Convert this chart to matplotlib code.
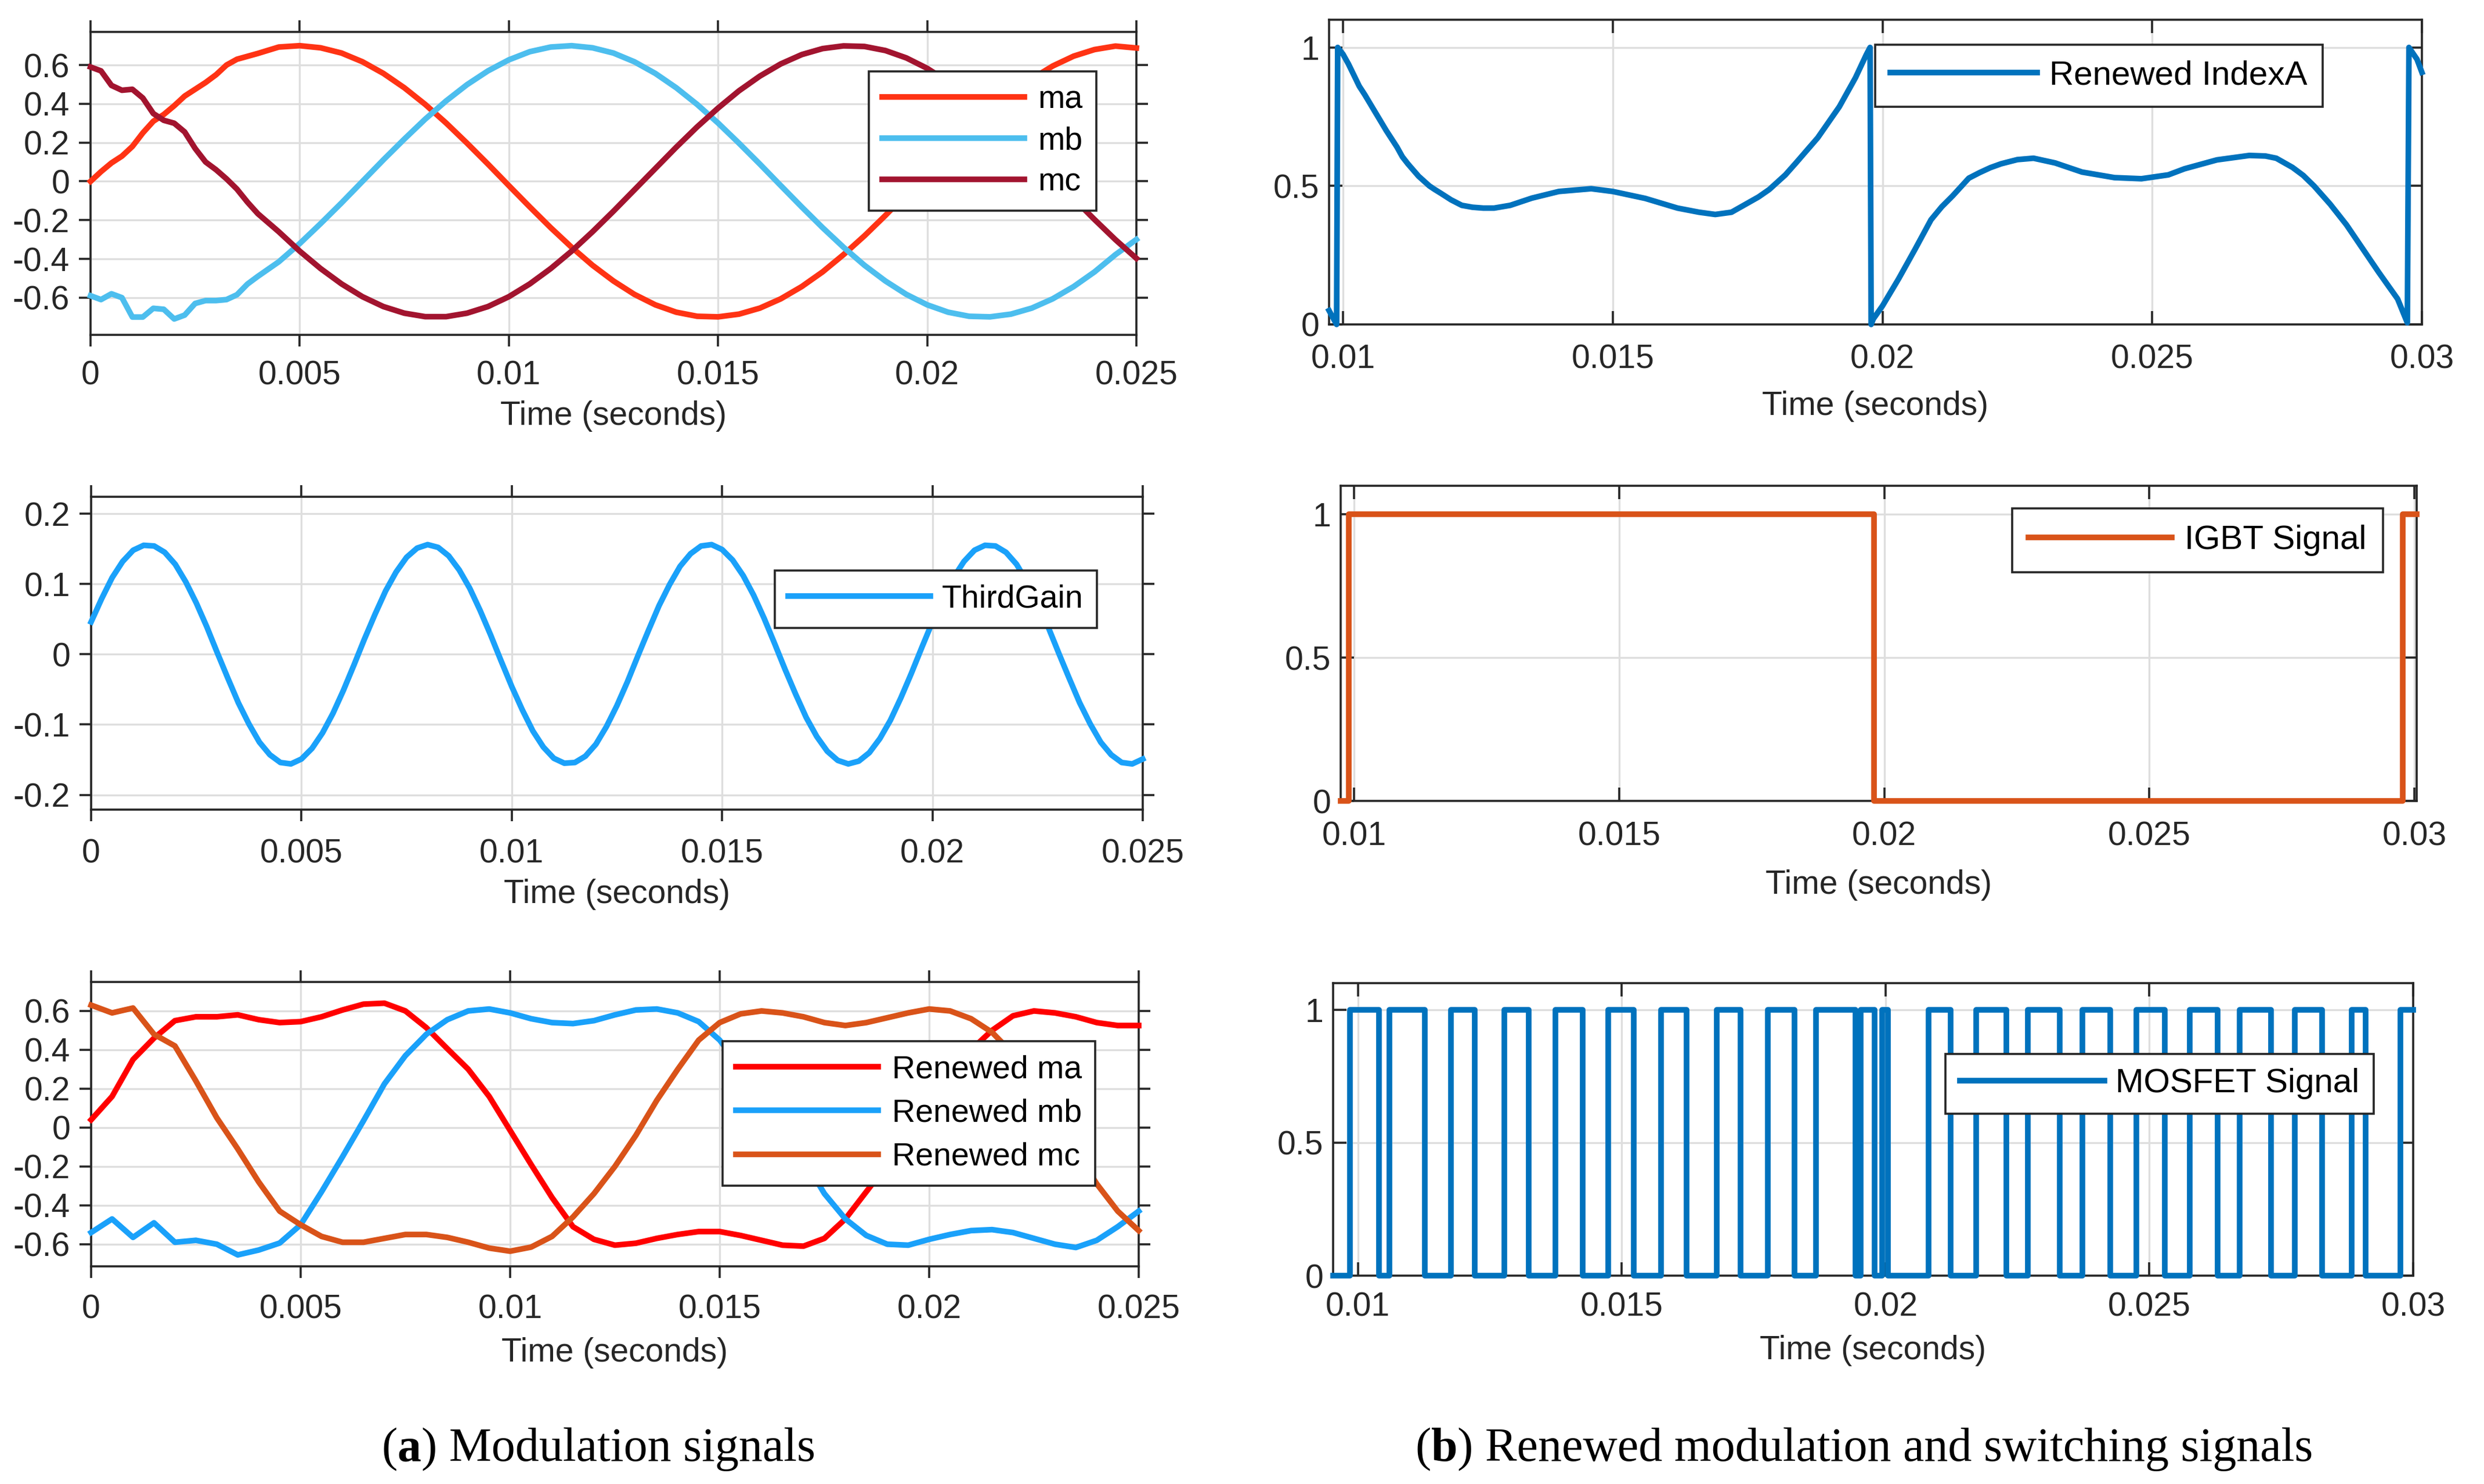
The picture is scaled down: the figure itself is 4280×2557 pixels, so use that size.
import numpy as np
import matplotlib
matplotlib.use("Agg")
import matplotlib.pyplot as plt

plt.rcParams['font.family'] = ['Liberation Sans', 'DejaVu Sans']
plt.rcParams['axes.unicode_minus'] = False

# ---------------- data ----------------
# (a) top: modulation signals ma, mb, mc
t_mod = np.round(np.concatenate([np.arange(17) * 0.00025, 0.0045 + np.arange(42) * 0.0005]), 6)
ma = [0.0, 0.05, 0.095, 0.13, 0.18, 0.25, 0.31, 0.345, 0.39, 0.44, 0.475, 0.51, 0.55, 0.60, 0.63, 0.645, 0.66,
      0.693, 0.700, 0.689, 0.662, 0.617, 0.557, 0.483, 0.397, 0.301, 0.197, 0.089, -0.022, -0.132, -0.239,
      -0.340, -0.433, -0.514, -0.583, -0.637, -0.675, -0.696, -0.699, -0.685, -0.654, -0.606, -0.543, -0.467,
      -0.378, -0.281, -0.176, -0.066, 0.044, 0.153, 0.260, 0.360, 0.450, 0.529, 0.595, 0.646, 0.680, 0.698, 0.688]
mb = [-0.59, -0.61, -0.58, -0.60, -0.70, -0.70, -0.655, -0.66, -0.71, -0.69, -0.63, -0.615, -0.615, -0.61, -0.585, -0.53, -0.49,
      -0.415, -0.321, -0.218, -0.111, 0.0, 0.111, 0.218, 0.321, 0.415, 0.499, 0.570, 0.627, 0.669, 0.693, 0.700,
      0.689, 0.662, 0.617, 0.557, 0.483, 0.397, 0.301, 0.197, 0.089, -0.022, -0.132, -0.239, -0.340, -0.433,
      -0.514, -0.583, -0.637, -0.675, -0.696, -0.699, -0.685, -0.654, -0.606, -0.543, -0.467, -0.378, -0.30]
mc = [0.59, 0.57, 0.495, 0.47, 0.475, 0.43, 0.35, 0.315, 0.30, 0.255, 0.17, 0.10, 0.06, 0.013, -0.04, -0.107, -0.167,
      -0.260, -0.360, -0.450, -0.529, -0.595, -0.646, -0.680, -0.698, -0.698, -0.680, -0.646, -0.595, -0.529,
      -0.450, -0.360, -0.260, -0.154, -0.044, 0.066, 0.176, 0.281, 0.378, 0.467, 0.543, 0.606, 0.654, 0.685,
      0.699, 0.696, 0.675, 0.637, 0.583, 0.514, 0.433, 0.340, 0.239, 0.132, 0.022, -0.089, -0.197, -0.301, -0.397]

# (a) middle: ThirdGain
t_third = np.round(np.arange(101) * 0.00025, 6)
third_gain = [0.046, 0.079, 0.109, 0.132, 0.148, 0.155, 0.154, 0.145, 0.128, 0.103, 0.073, 0.039, 0.002, -0.034,
              -0.069, -0.099, -0.125, -0.143, -0.154, -0.156, -0.149, -0.134, -0.112, -0.084, -0.051, -0.015,
              0.022, 0.057, 0.090, 0.117, 0.138, 0.151, 0.156, 0.152, 0.140, 0.120, 0.094, 0.062, 0.027, -0.010,
              -0.046, -0.079, -0.109, -0.132, -0.148, -0.155, -0.154, -0.145, -0.128, -0.103, -0.073, -0.039,
              -0.002, 0.034, 0.069, 0.099, 0.125, 0.143, 0.154, 0.156, 0.149, 0.134, 0.112, 0.084, 0.051, 0.015,
              -0.022, -0.057, -0.090, -0.117, -0.138, -0.151, -0.156, -0.152, -0.140, -0.120, -0.094, -0.062,
              -0.027, 0.010, 0.046, 0.079, 0.109, 0.132, 0.148, 0.155, 0.154, 0.145, 0.128, 0.103, 0.073, 0.039,
              0.002, -0.034, -0.069, -0.099, -0.125, -0.143, -0.154, -0.156, -0.149]

# (a) bottom: renewed modulation signals
t_ren = np.round(np.arange(51) * 0.0005, 6)
ren_ma = [0.04, 0.16, 0.35, 0.46, 0.55, 0.57, 0.57, 0.58, 0.555, 0.54,
          0.545, 0.57, 0.605, 0.635, 0.64, 0.60, 0.514, 0.406, 0.30, 0.16,
          -0.015, -0.19, -0.36, -0.51, -0.575, -0.605, -0.595, -0.57, -0.55, -0.535,
          -0.535, -0.555, -0.58, -0.605, -0.61, -0.57, -0.47, -0.33, -0.19, -0.05,
          0.10, 0.25, 0.40, 0.50, 0.575, 0.60, 0.59, 0.57, 0.54, 0.525, 0.525]
ren_mb = [-0.54, -0.47, -0.565, -0.49, -0.59, -0.58, -0.60, -0.655, -0.63, -0.594,
          -0.50, -0.33, -0.15, 0.035, 0.225, 0.37, 0.48, 0.555, 0.60, 0.61,
          0.59, 0.56, 0.54, 0.535, 0.55, 0.58, 0.605, 0.61, 0.59, 0.545,
          0.45, 0.31, 0.16, 0.0, -0.16, -0.34, -0.47, -0.555, -0.60, -0.605,
          -0.575, -0.55, -0.53, -0.525, -0.54, -0.57, -0.60, -0.617, -0.58, -0.51, -0.43]
ren_mc = [0.63, 0.59, 0.615, 0.48, 0.42, 0.24, 0.05, -0.11, -0.28, -0.43,
          -0.50, -0.56, -0.59, -0.59, -0.57, -0.55, -0.55, -0.565, -0.59, -0.62,
          -0.636, -0.615, -0.56, -0.46, -0.34, -0.20, -0.04, 0.14, 0.30, 0.45,
          0.54, 0.585, 0.60, 0.59, 0.57, 0.54, 0.525, 0.54, 0.565, 0.59,
          0.61, 0.60, 0.56, 0.49, 0.38, 0.22, 0.05, -0.12, -0.29, -0.43, -0.53]

# (b) top: renewed IndexA
idx_t = [0.00974, 0.00988, 0.00990, 0.0100, 0.0101, 0.0102, 0.0103, 0.0104, 0.0106, 0.0108, 0.0109, 0.0110,
         0.0111, 0.0112, 0.0114, 0.0116, 0.0117, 0.0118, 0.0120, 0.0122, 0.0124, 0.0126, 0.0128, 0.0131,
         0.0135, 0.0140, 0.0146, 0.0150, 0.0156, 0.0162, 0.0166, 0.0169, 0.0172, 0.0174, 0.0177, 0.0179,
         0.0182, 0.0184, 0.0188, 0.0192, 0.0195, 0.0197, 0.01977, 0.01979, 0.01983, 0.0200, 0.0203, 0.0206,
         0.0209, 0.0211, 0.0213, 0.0216, 0.0218, 0.0220, 0.0222, 0.0225, 0.0228, 0.0232, 0.0237, 0.0243,
         0.0248, 0.0253, 0.0256, 0.0262, 0.0268, 0.0271, 0.0273, 0.0276, 0.0278, 0.0280, 0.0283, 0.0286,
         0.0289, 0.0292, 0.02955, 0.02973, 0.02976, 0.02991, 0.0300]
idx_v = [0.05, 0.0, 1.0, 0.975, 0.94, 0.90, 0.86, 0.83, 0.765, 0.70, 0.67, 0.64,
         0.605, 0.58, 0.535, 0.50, 0.487, 0.475, 0.45, 0.43, 0.423, 0.42, 0.42, 0.43,
         0.456, 0.48, 0.49, 0.48, 0.455, 0.42, 0.405, 0.397, 0.405, 0.427, 0.46, 0.487,
         0.54, 0.584, 0.674, 0.786, 0.891, 0.974, 1.0, 0.0, 0.02, 0.067, 0.165, 0.27,
         0.378, 0.425, 0.464, 0.528, 0.548, 0.566, 0.58, 0.595, 0.60, 0.583, 0.55, 0.53,
         0.526, 0.54, 0.562, 0.594, 0.61, 0.608, 0.60, 0.567, 0.538, 0.50, 0.434, 0.36,
         0.274, 0.188, 0.092, 0.006, 1.0, 0.957, 0.91]

# (b) middle: IGBT signal (switching instants, level held after each)
igbt_t = [0.00975, 0.00990, 0.01981, 0.02978, 0.03004]
igbt_v = [0, 1, 0, 1, 1]

# (b) bottom: MOSFET signal (switching instants, level held after each)
mos_t = [0.00953, 0.00985, 0.01040, 0.01060, 0.01127, 0.01176, 0.01221, 0.01277, 0.01324, 0.01374,
         0.01426, 0.01474, 0.01523, 0.01575, 0.01623, 0.01680, 0.01725, 0.01777, 0.01827, 0.01868,
         0.01943, 0.01953, 0.01979, 0.01993, 0.02005, 0.02082, 0.02123, 0.02172, 0.02229, 0.02270,
         0.02330, 0.02373, 0.02426, 0.02475, 0.02529, 0.02577, 0.02629, 0.02671, 0.02731, 0.02776,
         0.02827, 0.02883, 0.02910, 0.02976, 0.03000]
mos_v = [0, 1] * 22 + [1]

# ticks / labels
xt_left = [0, 0.005, 0.01, 0.015, 0.02, 0.025]
xl_left = ['0', '0.005', '0.01', '0.015', '0.02', '0.025']
xt_right = [0.01, 0.015, 0.02, 0.025, 0.03]
xl_right = ['0.01', '0.015', '0.02', '0.025', '0.03']
yt_mod = [-0.6, -0.4, -0.2, 0, 0.2, 0.4, 0.6]
yl_mod = ['-0.6', '-0.4', '-0.2', '0', '0.2', '0.4', '0.6']
yt_third = [-0.2, -0.1, 0, 0.1, 0.2]
yl_third = ['-0.2', '-0.1', '0', '0.1', '0.2']
yt_sw = [0, 0.5, 1]
yl_sw = ['0', '0.5', '1']
xlabel_text = 'Time (seconds)'
caption_a = [("(", 'normal'), ("a", 'bold'), (") Modulation signals", 'normal')]
caption_b = [("(", 'normal'), ("b", 'bold'), (") Renewed modulation and switching signals", 'normal')]

# ---------------- figure ----------------
W, H, DPI = 4280, 2557, 100
fig = plt.figure(figsize=(W / DPI, H / DPI), dpi=DPI)
DARK = '#262626'
LW = 7


def make_axes(box):
    l, r, t, b = box
    return fig.add_axes([l / W, 1 - b / H, (r - l) / W, (b - t) / H])


def style(ax, box, xlim, ylim, xt, xl, yt, yl, tickdir, ticklen, xpad, ypad, label_top):
    l, r, t, b = box
    ax.set_xlim(xlim)
    ax.set_ylim(ylim)
    ax.set_xticks(xt, xl)
    ax.set_yticks(yt, yl)
    ax.grid(True, color='#dedede', linewidth=2.4)
    ax.set_axisbelow(True)
    for s in ax.spines.values():
        s.set_linewidth(2.6)
        s.set_color(DARK)
    ax.tick_params(axis='both', which='major', direction=tickdir, length=ticklen, width=2.6,
                   color=DARK, labelcolor=DARK, labelsize=41, top=True, right=True)
    ax.tick_params(axis='x', pad=xpad)
    ax.tick_params(axis='y', pad=ypad)
    ax.set_xlabel(xlabel_text, fontsize=41, color=DARK)
    ax.xaxis.set_label_coords(0.5, (b - label_top) / (b - t))


def add_legend(ax, box, left_px, top_px, fs, hl, htp, bp, ls=0.3):
    l, r, t, b = box
    leg = ax.legend(loc='upper left', bbox_to_anchor=((left_px - l) / (r - l), (b - top_px) / (b - t)),
                    borderaxespad=0, fontsize=fs, handlelength=hl, handletextpad=htp, borderpad=bp,
                    labelspacing=ls, fancybox=False, framealpha=1, edgecolor=DARK, facecolor='white')
    leg.get_frame().set_linewidth(2.6)
    return leg


# boxes: (left, right, top, bottom) in pixels
B_TL = (156, 1958, 55, 577)
B_ML = (157, 1969, 856, 1395)
B_BL = (157, 1962, 1692, 2182)
B_TR = (2290, 4173, 34, 559)
B_MR = (2310, 4164, 837, 1380)
B_BR = (2297, 4158, 1694, 2198)

# ---- (a) top
ax = make_axes(B_TL)
ax.plot(t_mod, ma, color='#FF3314', lw=LW, label='ma', clip_on=False, zorder=3)
ax.plot(t_mod, mb, color='#4DBEEE', lw=LW, label='mb', clip_on=False, zorder=3)
ax.plot(t_mod, mc, color='#A2142F', lw=LW, label='mc', clip_on=False, zorder=3)
style(ax, B_TL, (0, 0.025), (-0.792, 0.771), xt_left, xl_left, yt_mod, yl_mod, 'out', 14.4, 17, 11.5, 690)
add_legend(ax, B_TL, 1497, 123, 40, 4.4, 0.43, 0.42, 0.34)

# ---- (a) middle
ax = make_axes(B_ML)
ax.plot(t_third, third_gain, color='#1AA1FA', lw=LW, label='ThirdGain', clip_on=False, zorder=3)
style(ax, B_ML, (0, 0.025), (-0.221, 0.224), xt_left, xl_left, yt_third, yl_third, 'out', 14.4, 21, 11.5, 1514)
add_legend(ax, B_ML, 1335, 983, 40, 4.4, 0.36, 0.42)

# ---- (a) bottom
ax = make_axes(B_BL)
ax.plot(t_ren, ren_ma, color='#FF0000', lw=LW, label='Renewed ma', clip_on=False, zorder=3)
ax.plot(t_ren, ren_mb, color='#1AA1FA', lw=LW, label='Renewed mb', clip_on=False, zorder=3)
ax.plot(t_ren, ren_mc, color='#D95319', lw=LW, label='Renewed mc', clip_on=False, zorder=3)
style(ax, B_BL, (0, 0.025), (-0.714, 0.749), xt_left, xl_left, yt_mod, yl_mod, 'out', 14.4, 20, 11.5, 2304)
add_legend(ax, B_BL, 1245, 1794, 40, 4.4, 0.43, 0.42, 0.42)

# ---- (b) top
ax = make_axes(B_TR)
ax.plot(idx_t, idx_v, color='#0072BD', lw=LW, label='Renewed IndexA', clip_on=False, zorder=3)
style(ax, B_TR, (0.00974, 0.03), (0, 1.1), xt_right, xl_right, yt_sw, yl_sw, 'in', 16.5, 24, 12, 673)
add_legend(ax, B_TR, 3231, 77, 42, 4.34, 0.36, 0.45)

# ---- (b) middle
ax = make_axes(B_MR)
ax.plot(igbt_t, igbt_v, color='#D95319', lw=LW, label='IGBT Signal', drawstyle='steps-post',
        clip_on=False, zorder=3)
style(ax, B_MR, (0.00975, 0.03004), (0, 1.1), xt_right, xl_right, yt_sw, yl_sw, 'in', 16.5, 24.5, 12, 1498)
add_legend(ax, B_MR, 3467, 876, 42, 4.24, 0.38, 0.48)

# ---- (b) bottom
ax = make_axes(B_BR)
ax.plot(mos_t, mos_v, color='#0072BD', lw=LW, label='MOSFET Signal', drawstyle='steps-post',
        clip_on=False, zorder=3)
style(ax, B_BR, (0.00953, 0.03), (0, 1.1), xt_right, xl_right, yt_sw, yl_sw, 'in', 16.5, 20, 12, 2300)
add_legend(ax, B_BR, 3352, 1816, 42, 4.27, 0.34, 0.42)

# ---- captions
CAP_FONT = ['Liberation Serif', 'DejaVu Serif']


def caption(parts, cx_px, baseline_px, size=59):
    first = fig.text(0.0, 1 - baseline_px / H, parts[0][0], fontsize=size, fontweight=parts[0][1],
                     family=CAP_FONT, va='baseline', ha='left', color='black')
    texts = [first]
    prev = first
    for s, w in parts[1:]:
        a = fig.axes[0].annotate(s, xy=(1, 0), xycoords=prev, va='bottom', ha='left', fontsize=size,
                                 fontweight=w, family=CAP_FONT, color='black', annotation_clip=False)
        texts.append(a)
        prev = a
    return texts


caps = [(caption(caption_a, 1031, 2517), 1031), (caption(caption_b, 3212, 2517), 3212)]
fig.canvas.draw()
r = fig.canvas.get_renderer()
for texts, cx in caps:
    x0 = min(t.get_window_extent(r).x0 for t in texts)
    x1 = max(t.get_window_extent(r).x1 for t in texts)
    shift = cx - (x0 + x1) / 2
    texts[0].set_x(texts[0].get_position()[0] + shift / W)

fig.savefig('out.png', dpi=DPI)
